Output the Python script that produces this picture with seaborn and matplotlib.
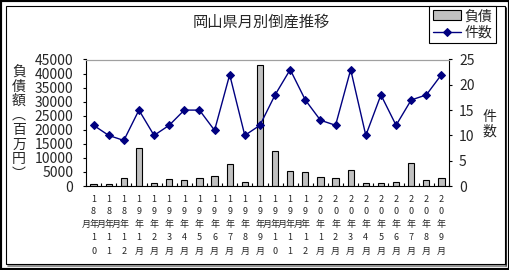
import numpy as np
import pandas as pd
import matplotlib
matplotlib.use("Agg")
import matplotlib.pyplot as plt
import matplotlib.transforms as mtransforms
from matplotlib.patches import Rectangle
from matplotlib.lines import Line2D
import seaborn as sns

# ---------------- data ----------------
title = "岡山県月別倒産推移"
periods = ["18年10月", "18年11月", "18年12月",
           "19年1月", "19年2月", "19年3月", "19年4月", "19年5月", "19年6月",
           "19年7月", "19年8月", "19年9月", "19年10月", "19年11月", "19年12月",
           "20年1月", "20年2月", "20年3月", "20年4月", "20年5月", "20年6月",
           "20年7月", "20年8月", "20年9月"]
debt = [700, 700, 2700, 13400, 1000, 2400, 2000, 2700, 3400, 7700, 1300, 42900,
        12400, 5300, 5000, 3200, 2800, 5700, 1100, 1100, 1400, 8200, 2100, 2800]
count = [12, 10, 9, 15, 10, 12, 15, 15, 11, 22, 10, 12,
         18, 23, 17, 13, 12, 23, 10, 18, 12, 17, 18, 22]
left_ticks = [0, 5000, 10000, 15000, 20000, 25000, 30000, 35000, 40000, 45000]
right_ticks = [0, 5, 10, 15, 20, 25]
debt_label = "負債"
count_label = "件数"
left_axis_label = "負債額（百万円）"
right_axis_label = "件数"

df = pd.DataFrame({"pos": list(range(len(periods))), "period": periods,
                   "debt": debt, "count": count})

# ---------------- style ----------------
sns.set_style("ticks")
plt.rcParams["font.family"] = ["Noto Sans CJK JP", "DejaVu Sans"]

W, H = 510, 270
fig = plt.figure(figsize=(W / 100, H / 100), dpi=100)
fig.patch.set_facecolor("white")

ax = fig.add_axes([86 / W, 1 - 186 / H, (449 - 86) / W, (186 - 59.5) / H])
sns.barplot(data=df, x="pos", y="debt", order=list(range(len(periods))),
            color="#C0C0C0", saturation=1, edgecolor="black", linewidth=0.8,
            width=0.42, ax=ax, label=debt_label)
ax.set_xlim(-0.5, len(periods) - 0.5)
ax.set_ylim(left_ticks[0], left_ticks[-1])

ax2 = ax.twinx()
sns.lineplot(data=df, x="pos", y="count", color="#000080", marker="D",
             markersize=4.5, markeredgecolor="#000080", linewidth=1,
             ax=ax2, label=count_label)
ax2.set_ylim(right_ticks[0], right_ticks[-1])
ax2.set_xlim(-0.5, len(periods) - 0.5)

for a in (ax, ax2):
    a.set_xlabel("")
    a.set_ylabel("")
    if a.get_legend() is not None:
        a.get_legend().remove()

# spines
for a in (ax, ax2):
    a.spines["top"].set_color("#A0A0A0")
    a.spines["top"].set_linewidth(0.8)
ax.spines["right"].set_visible(False)
ax2.spines["left"].set_visible(False)
ax2.spines["bottom"].set_visible(False)
ax.spines["left"].set_color("black")
ax.spines["bottom"].set_color("black")
ax2.spines["right"].set_color("black")
for s in ("left", "bottom"):
    ax.spines[s].set_linewidth(0.8)
ax2.spines["right"].set_linewidth(0.8)

# ticks
ax.set_xticks(np.arange(-0.5, len(periods), 1))
ax.set_xticklabels([])
ax.tick_params(axis="x", direction="in", length=2.2, width=0.8, color="black")
ax.set_yticks(left_ticks)
ax.set_yticklabels([str(v) for v in left_ticks])
ax.tick_params(axis="y", direction="out", length=2.2, width=0.8, pad=7,
               labelsize=10, color="black")
ax2.set_yticks(right_ticks)
ax2.set_yticklabels([str(v) for v in right_ticks])
ax2.tick_params(axis="y", direction="out", length=2.2, width=0.8, pad=5,
                labelsize=10, color="black")

# x tick labels (vertical stacked characters)
trans = mtransforms.blended_transform_factory(ax.transData, fig.transFigure)
rows_y = [200, 212, 224, 237, 251]
fs_x = 6.5
for i, lab in enumerate(periods):
    yr, rest = lab.split("年")
    mo = rest.rstrip("月")
    chars = [yr[0], yr[1], "年"]
    for r, ch in enumerate(chars):
        fig.text(i, 1 - rows_y[r] / H, ch, transform=trans, ha="center",
                 va="center", fontsize=fs_x)
    if len(mo) == 2:
        fig.text(i, 1 - rows_y[3] / H, mo[0], transform=trans, ha="center",
                 va="center", fontsize=fs_x)
        fig.text(i, 1 - rows_y[4] / H, mo[1], transform=trans, ha="center",
                 va="center", fontsize=fs_x)
        fig.text(i - 0.5, 1 - rows_y[2] / H, "月", transform=trans,
                 ha="center", va="center", fontsize=fs_x)
    else:
        fig.text(i, 1 - rows_y[3] / H, mo, transform=trans, ha="center",
                 va="center", fontsize=fs_x)
        fig.text(i, 1 - rows_y[4] / H, "月", transform=trans, ha="center",
                 va="center", fontsize=fs_x)

# title and axis labels
fig.text(261 / W, 1 - 22 / H, title, ha="center", va="center", fontsize=11)
vert_left = left_axis_label.replace("（", "︵").replace("）", "︶")
fig.text(19 / W, 1 - 123 / H, "\n".join(vert_left), ha="center", va="center",
         fontsize=10, linespacing=1.05)
fig.text(489 / W, 1 - 124 / H, "\n".join(right_axis_label), ha="center",
         va="center", fontsize=10, linespacing=1.05)

# legend
h1, l1 = ax.get_legend_handles_labels()
h2, l2 = ax2.get_legend_handles_labels()
leg = fig.legend(h1 + h2, l1 + l2, loc="upper right",
                 bbox_to_anchor=(496 / W, 1 - 5.7 / H), frameon=True,
                 fancybox=False, edgecolor="black", framealpha=1, fontsize=10,
                 handlelength=2.0, borderpad=0.25, labelspacing=0.2,
                 handletextpad=0.3, borderaxespad=0)
leg.get_frame().set_linewidth(0.8)

# chart frame
fig.patches.append(Rectangle((0, 0), 1, 1, transform=fig.transFigure,
                             fill=False, edgecolor="black", linewidth=3))
fig.patches.append(Rectangle((6 / W, 1 - 264 / H), (505 - 6) / W, (264 - 6) / H,
                             transform=fig.transFigure, fill=False,
                             edgecolor="black", linewidth=0.8))
fig.lines.append(Line2D([506 / W, 506 / W], [1 - 266 / H, 1 - 8 / H],
                        transform=fig.transFigure, color="black", linewidth=1.2))
fig.lines.append(Line2D([8 / W, 506 / W], [1 - 265.5 / H, 1 - 265.5 / H],
                        transform=fig.transFigure, color="#808080", linewidth=1.2))

fig.savefig("out.png", dpi=100, facecolor="white")
